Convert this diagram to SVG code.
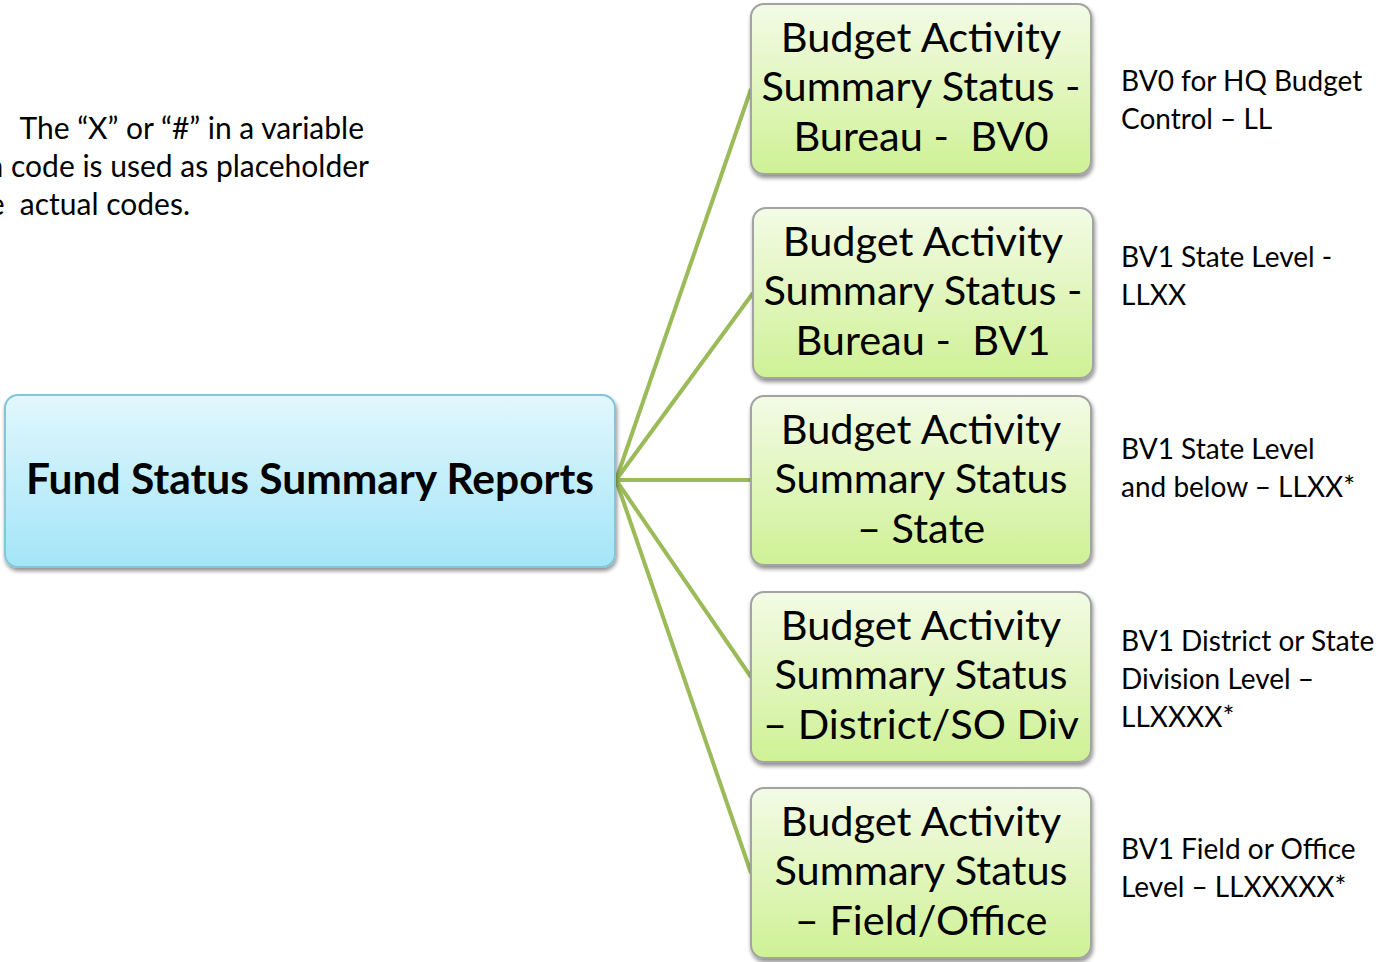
<svg xmlns="http://www.w3.org/2000/svg" width="1381" height="962" viewBox="0 0 1381 962">
<defs>
<linearGradient id="gBlue" x1="0" y1="0" x2="0" y2="1">
<stop offset="0" stop-color="#e2f7fd"/>
<stop offset="1" stop-color="#a3e5f8"/>
</linearGradient>
<linearGradient id="gGreen" x1="0" y1="0" x2="0" y2="1">
<stop offset="0" stop-color="#f3fbe6"/>
<stop offset="1" stop-color="#cff195"/>
</linearGradient>
<filter id="sh" x="-5%" y="-5%" width="112%" height="115%">
<feGaussianBlur in="SourceAlpha" stdDeviation="2"/>
<feOffset dx="1" dy="3" result="b"/>
<feComponentTransfer><feFuncA type="linear" slope="0.45"/></feComponentTransfer>
<feMerge><feMergeNode/><feMergeNode in="SourceGraphic"/></feMerge>
</filter>
</defs>
<style>
.t{font-family:Lato,"Liberation Sans",sans-serif;fill:#000;white-space:pre}
.big{font-size:41.5px;text-anchor:middle}
.side{font-size:28px}
.note{font-size:30px;text-anchor:end}
.main{fill:url(#gBlue);stroke:#82c6d8;stroke-width:2}
.box{fill:url(#gGreen);stroke:#a3a3a3;stroke-width:2}
.con{stroke:#9bbb59;stroke-width:4;fill:none}
</style>
<rect width="1381" height="962" fill="#ffffff"/>
<g id="note">
<text class="t note" x="364" y="139">The “X” or “#” in a variable</text>
<text class="t note" x="369" y="177">n code is used as placeholder</text>
<text class="t note" x="190" y="215">e  actual codes.</text>
</g>
<g id="connectors">
<line class="con" x1="616" y1="480" x2="751" y2="89"/>
<line class="con" x1="616" y1="480" x2="753" y2="293"/>
<line class="con" x1="616" y1="480" x2="751" y2="480"/>
<line class="con" x1="616" y1="480" x2="751" y2="677"/>
<line class="con" x1="616" y1="480" x2="751" y2="873"/>
</g>
<g id="root">
<rect class="main" x="5" y="395" width="610" height="172" rx="13" filter="url(#sh)"/>
<text class="t" x="310" y="494" font-size="42.5" font-weight="bold" text-anchor="middle">Fund Status Summary Reports</text>
</g>
<g id="n1">
<rect class="box" x="751" y="4" width="340" height="170" rx="13" filter="url(#sh)"/>
<text class="t big" x="921" y="52">Budget Activity</text>
<text class="t big" x="921" y="101">Summary Status -</text>
<text class="t big" x="921" y="151">Bureau -  BV0</text>
</g>
<g id="n2">
<rect class="box" x="753" y="208" width="340" height="170" rx="13" filter="url(#sh)"/>
<text class="t big" x="923" y="256">Budget Activity</text>
<text class="t big" x="923" y="305">Summary Status -</text>
<text class="t big" x="923" y="355">Bureau -  BV1</text>
</g>
<g id="n3">
<rect class="box" x="751" y="396" width="340" height="169" rx="13" filter="url(#sh)"/>
<text class="t big" x="921" y="444">Budget Activity</text>
<text class="t big" x="921" y="493">Summary Status</text>
<text class="t big" x="921" y="543">– State</text>
</g>
<g id="n4">
<rect class="box" x="751" y="592" width="340" height="170" rx="13" filter="url(#sh)"/>
<text class="t big" x="921" y="640">Budget Activity</text>
<text class="t big" x="921" y="689">Summary Status</text>
<text class="t big" x="921" y="739">– District/SO Div</text>
</g>
<g id="n5">
<rect class="box" x="751" y="788" width="340" height="170" rx="13" filter="url(#sh)"/>
<text class="t big" x="921" y="836">Budget Activity</text>
<text class="t big" x="921" y="885">Summary Status</text>
<text class="t big" x="921" y="935">– Field/Office</text>
</g>
<g id="labels">
<text class="t side" x="1121" y="91">BV0 for HQ Budget</text>
<text class="t side" x="1121" y="129">Control – LL</text>
<text class="t side" x="1121" y="267">BV1 State Level -</text>
<text class="t side" x="1121" y="305">LLXX</text>
<text class="t side" x="1121" y="459">BV1 State Level</text>
<text class="t side" x="1121" y="497">and below – LLXX*</text>
<text class="t side" x="1121" y="651">BV1 District or State</text>
<text class="t side" x="1121" y="689">Division Level –</text>
<text class="t side" x="1121" y="727">LLXXXX*</text>
<text class="t side" x="1121" y="859">BV1 Field or Office</text>
<text class="t side" x="1121" y="897">Level – LLXXXXX*</text>
</g>
</svg>
